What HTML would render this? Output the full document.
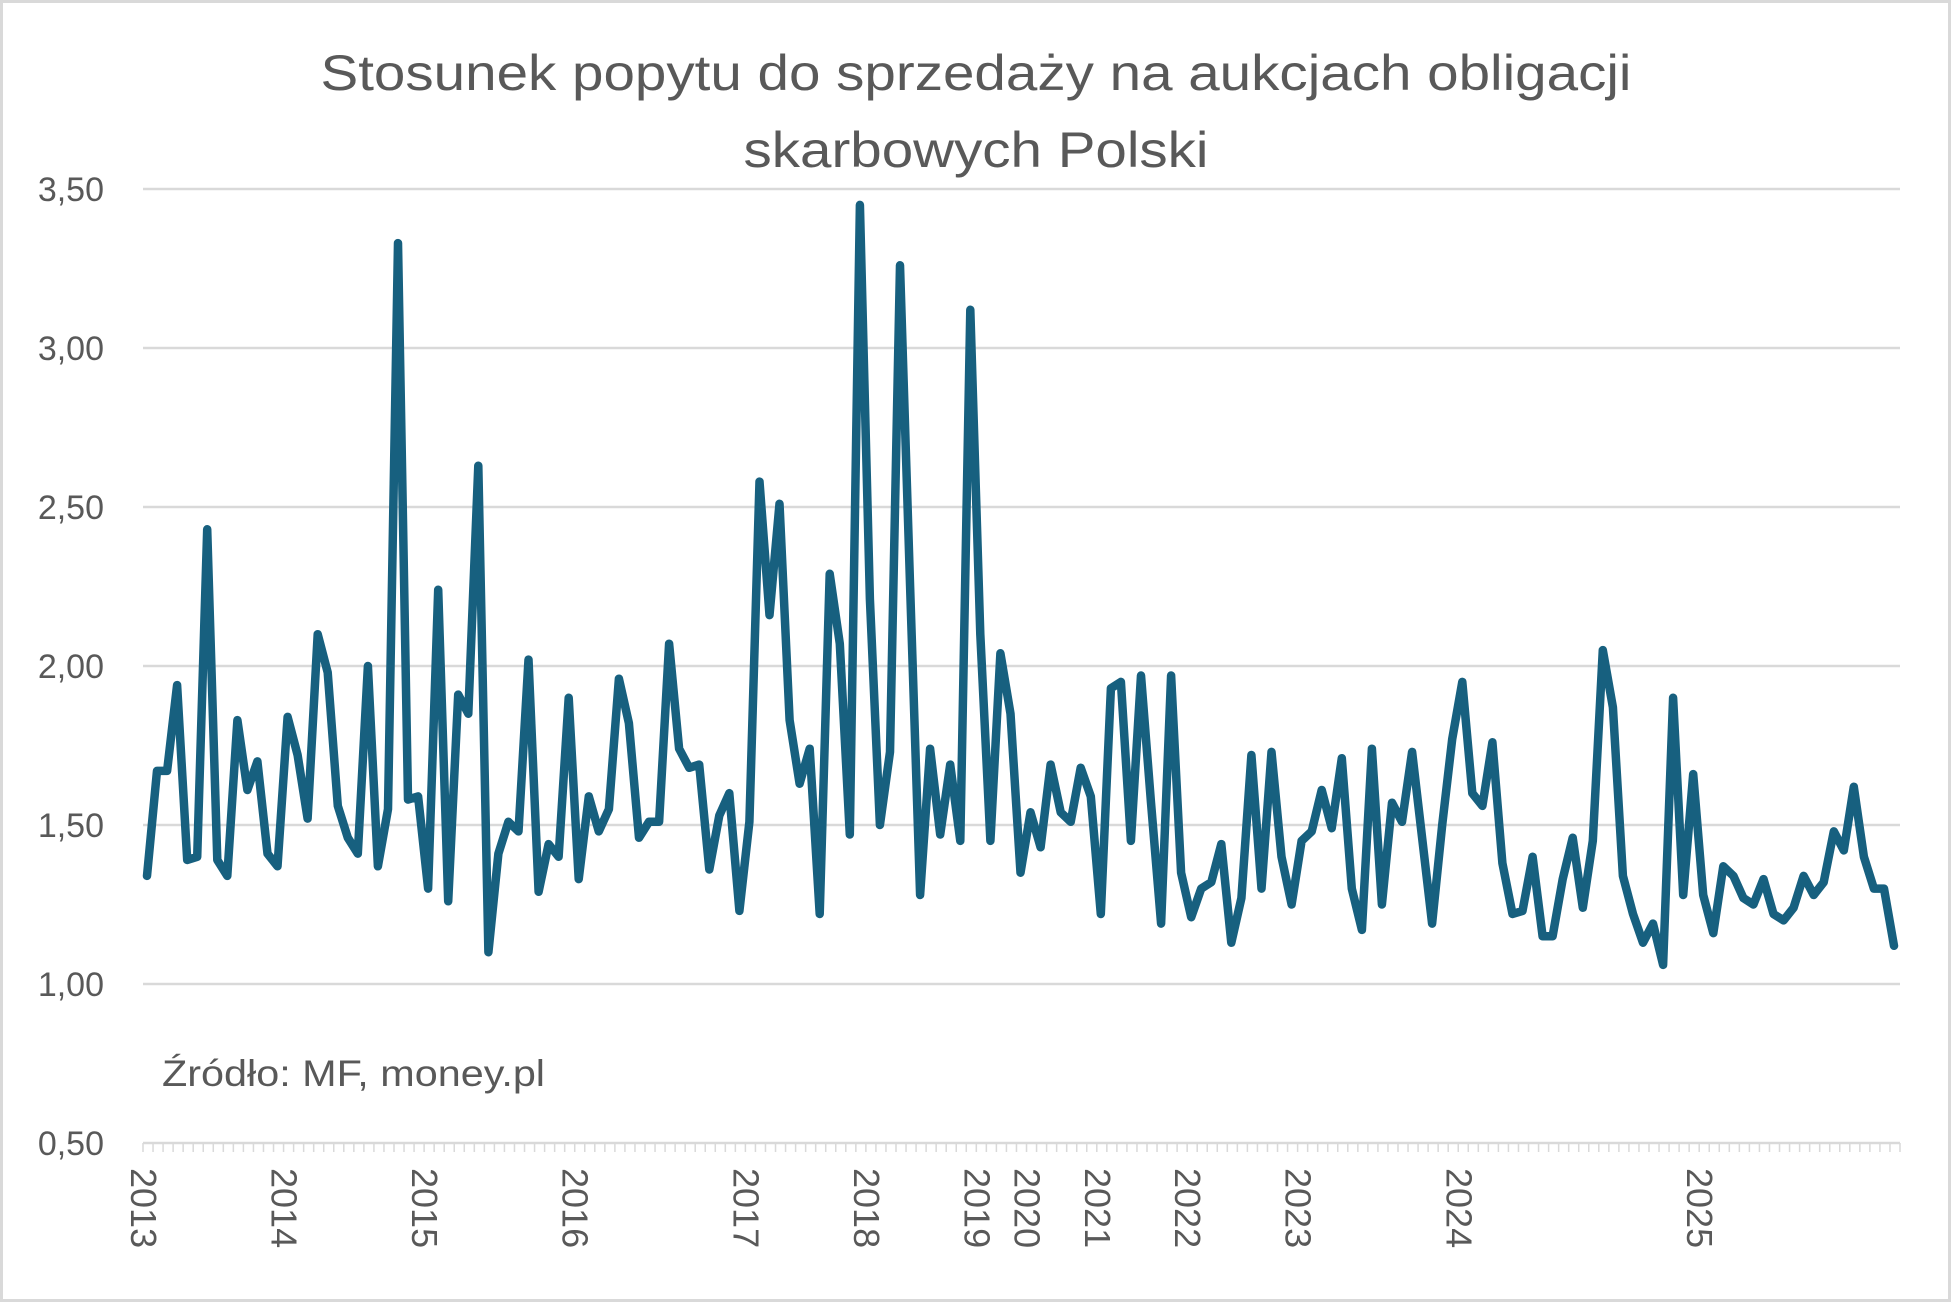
<!DOCTYPE html>
<html><head><meta charset="utf-8"><style>
html,body{margin:0;padding:0;background:#fff;}
svg{display:block;font-family:"Liberation Sans",sans-serif;}
</style></head><body>
<svg id="chart" width="1951" height="1302" viewBox="0 0 1951 1302">
<rect x="1.5" y="1.5" width="1948" height="1299" fill="#fff" stroke="#d9d9d9" stroke-width="3"/>
<text x="976" y="90" text-anchor="middle" font-size="50" fill="#595959" textLength="1311" lengthAdjust="spacingAndGlyphs">Stosunek popytu do sprzedaży na aukcjach obligacji</text>
<text x="976" y="167" text-anchor="middle" font-size="50" fill="#595959" textLength="465" lengthAdjust="spacingAndGlyphs">skarbowych Polski</text>
<g id="grid"></g><g id="yticks"></g><g id="xaxis"></g><g id="series"></g>
<text x="162" y="1086" font-size="37" fill="#595959" textLength="383" lengthAdjust="spacingAndGlyphs">Źródło: MF, money.pl</text>
</svg>
<script>
const values=[1.34,1.67,1.67,1.94,1.39,1.40,2.43,1.39,1.34,1.83,1.61,1.70,1.41,1.37,1.84,1.72,1.52,2.10,1.98,1.56,1.46,1.41,2.00,1.37,1.55,3.33,1.58,1.59,1.30,2.24,1.26,1.91,1.85,2.63,1.10,1.41,1.51,1.48,2.02,1.29,1.44,1.40,1.90,1.33,1.59,1.48,1.55,1.96,1.82,1.46,1.51,1.51,2.07,1.74,1.68,1.69,1.36,1.53,1.60,1.23,1.51,2.58,2.16,2.51,1.83,1.63,1.74,1.22,2.29,2.07,1.47,3.45,2.21,1.50,1.73,3.26,2.25,1.28,1.74,1.47,1.69,1.45,3.12,2.10,1.45,2.04,1.85,1.35,1.54,1.43,1.69,1.54,1.51,1.68,1.59,1.22,1.93,1.95,1.45,1.97,1.57,1.19,1.97,1.35,1.21,1.30,1.32,1.44,1.13,1.27,1.72,1.30,1.73,1.40,1.25,1.45,1.48,1.61,1.49,1.71,1.30,1.17,1.74,1.25,1.57,1.51,1.73,1.46,1.19,1.50,1.77,1.95,1.60,1.56,1.76,1.38,1.22,1.23,1.40,1.15,1.15,1.33,1.46,1.24,1.45,2.05,1.87,1.34,1.22,1.13,1.19,1.06,1.90,1.28,1.66,1.28,1.16,1.37,1.34,1.27,1.25,1.33,1.22,1.20,1.24,1.34,1.28,1.32,1.48,1.42,1.62,1.40,1.30,1.30,1.12];
const yearLabels=["2013","2014","2015","2016","2017","2018","2019","2020","2021","2022","2023","2024","2025"];
const yearIndex=[0,14,28,43,60,72,83,88,95,104,115,131,155];
const yTicks=[0.5,1.0,1.5,2.0,2.5,3.0,3.5];
const NS="http://www.w3.org/2000/svg";
const L=143,R=1900,T=189,B=1143,ymin=0.5,ymax=3.5;
const n=values.length;
const x0=147,x1=1894;
function xs(i){return x0+(x1-x0)*i/(n-1);}
function ys(v){return B-(v-ymin)/(ymax-ymin)*(B-T);}
function mk(tag,attrs,parent){const e=document.createElementNS(NS,tag);for(const k in attrs)e.setAttribute(k,attrs[k]);parent.appendChild(e);return e;}
const grid=document.getElementById('grid'),yt=document.getElementById('yticks'),xa=document.getElementById('xaxis'),se=document.getElementById('series');
yTicks.forEach(v=>{
  const g=mk('line',{x1:L,x2:R,y1:ys(v),y2:ys(v),stroke:'#d9d9d9','stroke-width':2.5},grid);
  
  
  const t=mk('text',{x:104,y:ys(v)+12,'text-anchor':'end','font-size':34,fill:'#595959'},yt);
  
  
  t.textContent=v.toFixed(2).replace('.',',');
});
for(let i=0;i<=n;i++){
  const xx=L+(R-L)*i/n;
  const tk=mk('line',{x1:xx,x2:xx,y1:B,y2:B+9,stroke:'#d9d9d9','stroke-width':1.5},xa);
  
  
}
yearLabels.forEach((lab,k)=>{
  const xx=xs(yearIndex[k])-3;
  const t=mk('text',{transform:`translate(${xx-13},1168) rotate(90)`,'font-size':36,fill:'#595959'},xa);
  
  
  t.textContent=lab;
});
const d=values.map((v,i)=>(i?'L':'M')+xs(i).toFixed(1)+','+ys(v).toFixed(1)).join(' ');
const p=mk('path',{d:d,fill:'none',stroke:'#17607f','stroke-width':8.5,'stroke-linejoin':'round','stroke-linecap':'round'},se);


</script>
</body></html>
